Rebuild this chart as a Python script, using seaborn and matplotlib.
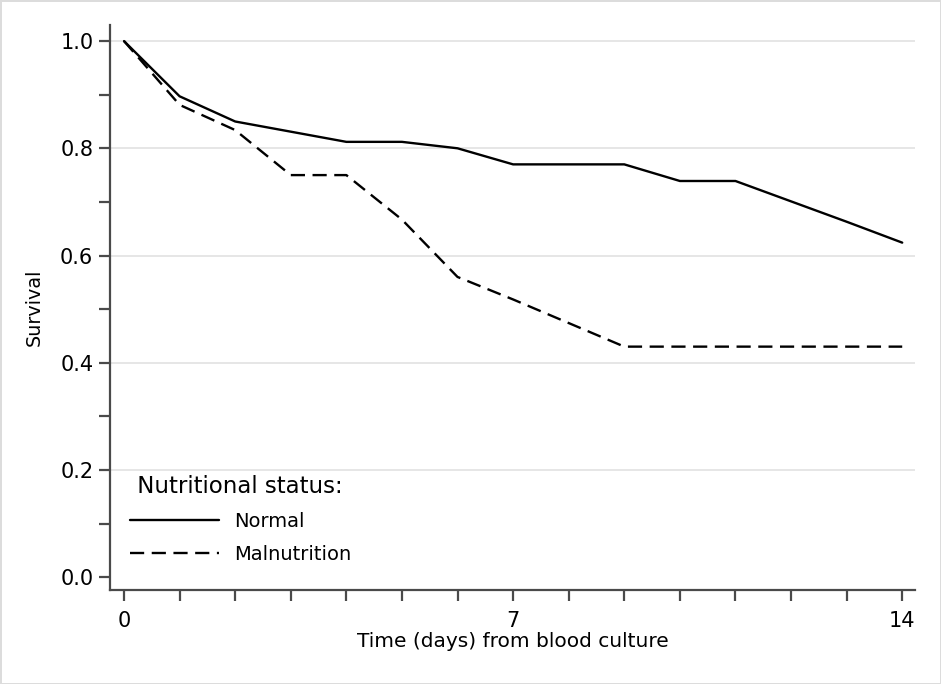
import matplotlib
matplotlib.use("Agg")
import matplotlib.pyplot as plt
import seaborn as sns
import pandas as pd
from matplotlib.lines import Line2D

days = list(range(15))
normal = [1.0, 0.897, 0.850, 0.831, 0.812, 0.812, 0.800, 0.770, 0.770, 0.770,
          0.739, 0.739, 0.701, 0.663, 0.624]
malnutrition = [1.0, 0.881, 0.834, 0.750, 0.750, 0.667, 0.560, 0.518, 0.474, 0.430,
                0.430, 0.430, 0.430, 0.430, 0.430]
groups = ["Normal", "Malnutrition"]
x_labels = [0, 7, 14]
grid_vals = [0.2, 0.4, 0.6, 0.8, 1.0]

df = pd.DataFrame({
    "day": days * 2,
    "surv": normal + malnutrition,
    "group": [groups[0]] * len(days) + [groups[1]] * len(days),
})

sns.set_theme(style="white")
plt.rcParams["font.family"] = ["DejaVu Sans"]
plt.rcParams["text.color"] = "black"
plt.rcParams["axes.labelcolor"] = "black"

fig = plt.figure(figsize=(9.41, 6.84), dpi=100)
fig.patch.set_edgecolor("#dcdcdc")
fig.patch.set_linewidth(2)
ax = fig.add_axes([110 / 941, 1 - 590 / 684, 805 / 941, 565 / 684])

for g in grid_vals:
    ax.axhline(g, color="#e4e4e4", lw=1.3, zorder=0)

lw = 1.7
dash = (6.0, 3.2)
sns.lineplot(data=df, x="day", y="surv", style="group", hue="group",
             palette={"Normal": "black", "Malnutrition": "black"},
             dashes={"Normal": "", "Malnutrition": dash},
             lw=lw, ax=ax, legend=False)

ax.set_xlim(-0.252, 14.23)
ax.set_ylim(-0.024, 1.030)
ax.set_xticks(days)
ax.set_xticklabels([str(d) if d in x_labels else "" for d in days])
yt = [i / 10 for i in range(11)]
ax.set_yticks(yt)
ax.set_yticklabels([f"{v:.1f}" if round(v * 10) % 2 == 0 else "" for v in yt])

for s in ["top", "right"]:
    ax.spines[s].set_visible(False)
for s in ["left", "bottom"]:
    ax.spines[s].set_color("#4a4a4a")
    ax.spines[s].set_linewidth(1.6)
ax.tick_params(axis="both", which="major", direction="out", length=8, width=1.6,
               color="#4a4a4a", labelsize=15, labelcolor="black",
               bottom=True, left=True, pad=4)
ax.tick_params(axis="x", pad=7)

ax.set_xlabel("Time (days) from blood culture", fontsize=14.5, labelpad=1)
ax.set_ylabel("Survival", fontsize=13.8, labelpad=12)

handles = [Line2D([], [], color="black", lw=lw),
           Line2D([], [], color="black", lw=lw, linestyle=(0, dash))]
leg = ax.legend(handles, groups, title=" Nutritional status:", loc="lower left",
                bbox_to_anchor=(0.003, 0.0147), frameon=False, fontsize=14,
                title_fontsize=16.5, handlelength=4.6, handletextpad=0.75,
                labelspacing=0.72)
leg._legend_box.align = "left"

fig.savefig("out.png", dpi=100, facecolor="white", edgecolor=fig.patch.get_edgecolor())
